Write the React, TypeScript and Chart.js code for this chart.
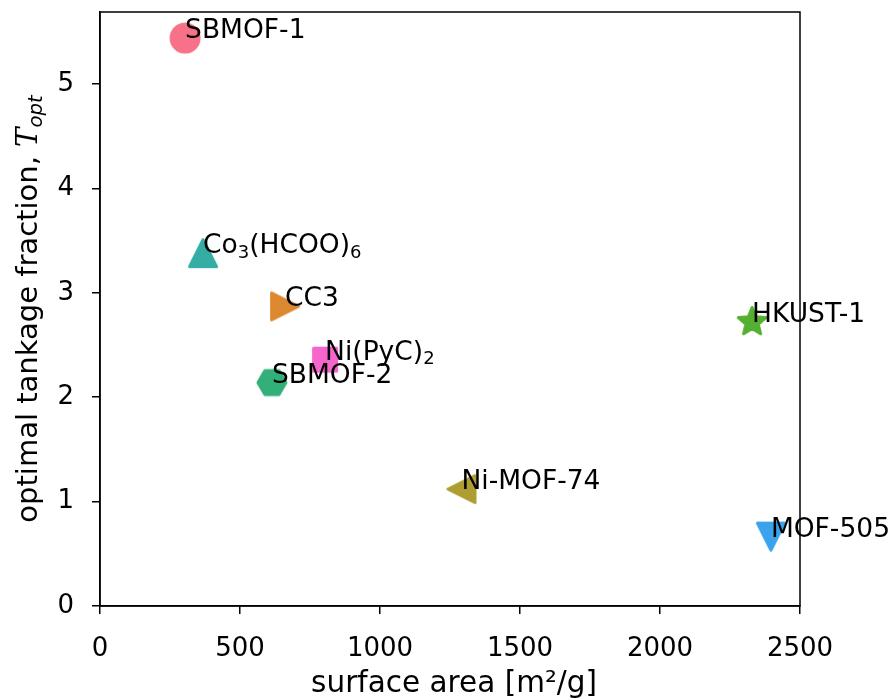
import React, { useEffect, useRef } from 'react';
import { Chart, registerables } from 'chart.js';

Chart.register(...registerables);

// ---- data ----
const names = ['SBMOF-1', 'Co_3(HCOO)_6', 'CC3', 'Ni(PyC)_2', 'SBMOF-2', 'Ni-MOF-74', 'HKUST-1', 'MOF-505'];
const surfaceArea = [304, 368, 661, 804, 614, 1291, 2329, 2396];
const tankage = [5.44, 3.38, 2.87, 2.36, 2.14, 1.12, 2.72, 0.665];
const markerKinds = ['circle', 'triUp', 'triRight', 'square', 'hexagon', 'triLeft', 'star', 'triDown'];
const markerColors = ['#f77189', '#36ada4', '#dc8932', '#f565cc', '#33b07a', '#ae9d31', '#55b031', '#3ba3ec'];
const xTickValues = [0, 500, 1000, 1500, 2000, 2500];
const yTickValues = [0, 1, 2, 3, 4, 5];
const xTitle = 'surface area [m²/g]';
const yTitleMain = 'optimal tankage fraction, ';
const yTitleSymbol = 'T';
const yTitleSub = 'opt';

const FONT = '"DejaVu Sans", sans-serif';

function makeMarker(kind: string, color: string): HTMLCanvasElement {
  const S = 44;
  const c = document.createElement('canvas');
  c.width = S;
  c.height = S;
  const g = c.getContext('2d')!;
  g.translate(S / 2, S / 2);
  g.fillStyle = color;
  g.strokeStyle = color;
  g.lineJoin = 'round';
  g.lineWidth = 3;
  const poly = (pts: number[][]) => {
    g.beginPath();
    pts.forEach((p, i) => (i === 0 ? g.moveTo(p[0], p[1]) : g.lineTo(p[0], p[1])));
    g.closePath();
    g.fill();
    g.stroke();
  };
  const r = 13.5;
  if (kind === 'circle') {
    g.beginPath();
    g.arc(0, 0, 15.5, 0, Math.PI * 2);
    g.fill();
  } else if (kind === 'triUp') {
    poly([[0, -r], [-r, r], [r, r]]);
  } else if (kind === 'triDown') {
    poly([[0, r], [-r, -r], [r, -r]]);
  } else if (kind === 'triRight') {
    poly([[r, 0], [-r, -r], [-r, r]]);
  } else if (kind === 'triLeft') {
    poly([[-r, 0], [r, -r], [r, r]]);
  } else if (kind === 'square') {
    const h = 11.5;
    poly([[-h, -h], [h, -h], [h, h], [-h, h]]);
  } else if (kind === 'hexagon') {
    const pts: number[][] = [];
    for (let i = 0; i < 6; i++) {
      const a = (Math.PI / 3) * i;
      pts.push([14 * Math.cos(a), 14 * Math.sin(a)]);
    }
    poly(pts);
  } else if (kind === 'star') {
    const pts: number[][] = [];
    for (let i = 0; i < 10; i++) {
      const a = -Math.PI / 2 + (Math.PI / 5) * i;
      const rr = i % 2 === 0 ? 14.5 : 6.5;
      pts.push([rr * Math.cos(a), rr * Math.sin(a)]);
    }
    poly(pts);
  }
  return c;
}

type Seg = { text: string; sub?: boolean; italic?: boolean; family?: string };

function parseLabel(s: string): Seg[] {
  const parts = s.split(/_(\d)/);
  const segs: Seg[] = [];
  parts.forEach((p, i) => {
    if (p) segs.push({ text: p, sub: i % 2 === 1 });
  });
  return segs;
}

function segFont(seg: Seg, size: number) {
  const sz = seg.sub ? size * 0.68 : size;
  return `${seg.italic ? 'italic ' : ''}${sz}px ${seg.family || FONT}`;
}

function measureRich(ctx: CanvasRenderingContext2D, segs: Seg[], size: number) {
  let w = 0;
  segs.forEach((s) => {
    ctx.font = segFont(s, size);
    w += ctx.measureText(s.text).width;
  });
  return w;
}

function drawRich(ctx: CanvasRenderingContext2D, segs: Seg[], x: number, y: number, size: number) {
  let cx = x;
  segs.forEach((s) => {
    ctx.font = segFont(s, size);
    ctx.fillText(s.text, cx, s.sub ? y + size * 0.17 : y);
    cx += ctx.measureText(s.text).width;
  });
}

const decorPlugin = {
  id: 'decor',
  afterDatasetsDraw(chart: any) {
    const ctx: CanvasRenderingContext2D = chart.ctx;
    const area = chart.chartArea;
    ctx.save();
    // frame
    ctx.strokeStyle = '#000';
    ctx.lineWidth = 1.5;
    ctx.strokeRect(area.left, area.top, area.right - area.left, area.bottom - area.top);
    // point labels
    const meta = chart.getDatasetMeta(0);
    ctx.fillStyle = '#000';
    ctx.textAlign = 'left';
    ctx.textBaseline = 'alphabetic';
    meta.data.forEach((el: any, i: number) => {
      drawRich(ctx, parseLabel(names[i]), el.x, el.y, 26.5);
    });
    // x title
    ctx.font = `29.5px ${FONT}`;
    ctx.textAlign = 'center';
    ctx.fillText(xTitle, (area.left + area.right) / 2 + 4, 692);
    // y title
    const ySegs: Seg[] = [
      { text: yTitleMain },
      { text: yTitleSymbol, italic: true, family: '"DejaVu Serif", serif' },
      { text: yTitleSub, sub: true, italic: true },
    ];
    const ys = 29;
    const w = measureRich(ctx, ySegs, ys);
    ctx.translate(37, (area.top + area.bottom) / 2);
    ctx.rotate(-Math.PI / 2);
    ctx.textAlign = 'left';
    drawRich(ctx, ySegs, -w / 2, 0, ys);
    ctx.restore();
  },
};

const zeroPad = (s: any) => {
  s.paddingTop = 0;
  s.paddingBottom = 0;
  s.paddingLeft = 0;
  s.paddingRight = 0;
};

export default function App() {
  const ref = useRef<HTMLCanvasElement>(null);
  useEffect(() => {
    const canvas = ref.current!;
    const points = surfaceArea.map((x, i) => ({ x, y: tankage[i] }));
    const styles = markerKinds.map((k, i) => makeMarker(k, markerColors[i]));
    const chart = new Chart(canvas, {
      type: 'scatter',
      data: {
        datasets: [
          {
            data: points,
            pointStyle: styles as any,
            pointRadius: 15,
            pointHoverRadius: 15,
            backgroundColor: markerColors,
            borderColor: markerColors,
            clip: false as any,
          },
        ],
      },
      options: {
        animation: false,
        responsive: true,
        maintainAspectRatio: false,
        events: [],
        layout: { autoPadding: false, padding: { top: 12, right: 94, left: 0, bottom: 0 } },
        plugins: { legend: { display: false }, tooltip: { enabled: false } },
        scales: {
          x: {
            type: 'linear',
            min: 0,
            max: 2500,
            afterBuildTicks: (s: any) => {
              s.ticks = xTickValues.map((v) => ({ value: v }));
            },
            afterFit: (s: any) => {
              s.height = 94;
              zeroPad(s);
            },
            ticks: {
              color: '#000',
              font: { family: FONT, size: 26 },
              padding: 20,
              maxRotation: 0,
              autoSkip: false,
              callback: (v: any) => String(v),
            },
            grid: {
              drawOnChartArea: false,
              drawTicks: true,
              tickLength: 8,
              color: '#000',
              lineWidth: 1.5,
            },
            border: { display: true, color: '#000', width: 1.5 },
          },
          y: {
            type: 'linear',
            min: 0,
            max: 5.69,
            afterBuildTicks: (s: any) => {
              s.ticks = yTickValues.map((v) => ({ value: v }));
            },
            afterFit: (s: any) => {
              s.width = 100;
              zeroPad(s);
            },
            ticks: {
              color: '#000',
              font: { family: FONT, size: 26 },
              padding: 18,
              autoSkip: false,
              callback: (v: any) => String(v),
            },
            grid: {
              drawOnChartArea: false,
              drawTicks: true,
              tickLength: 8,
              color: '#000',
              lineWidth: 1.5,
            },
            border: { display: true, color: '#000', width: 1.5 },
          },
        },
      },
      plugins: [decorPlugin],
    });
    return () => chart.destroy();
  }, []);
  return (
    <div style={{ position: 'absolute', left: 0, top: 0, width: 894, height: 700, background: '#fff' }}>
      <canvas ref={ref} />
    </div>
  );
}
